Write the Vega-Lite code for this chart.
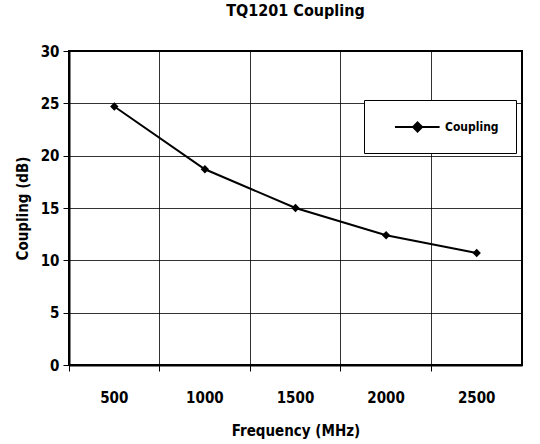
{
  "$schema": "https://vega.github.io/schema/vega-lite/v6.json",
  "autosize": "none",
  "width": 453,
  "height": 314,
  "padding": {"left": 69, "top": 51, "right": 18, "bottom": 79},
  "background": "white",
  "title": {
    "text": "TQ1201 Coupling",
    "fontSize": 16,
    "fontWeight": "bold",
    "font": "DejaVu Sans Condensed, sans-serif",
    "color": "black",
    "anchor": "middle",
    "offset": 25
  },
  "config": {
    "view": {"stroke": "black", "strokeWidth": 2},
    "font": "DejaVu Sans Condensed, sans-serif",
    "axis": {
      "labelFont": "DejaVu Sans Condensed, sans-serif",
      "titleFont": "DejaVu Sans Condensed, sans-serif",
      "labelFontWeight": "bold",
      "titleFontWeight": "bold",
      "labelColor": "black",
      "titleColor": "black",
      "labelFontSize": 15,
      "titleFontSize": 15,
      "gridColor": "black",
      "gridOpacity": 0.8,
      "gridWidth": 1,
      "domainColor": "black",
      "domainWidth": 2,
      "tickColor": "black",
      "tickWidth": 1,
      "tickSize": 6
    }
  },
  "data": {
    "values": [
      {"freq": 500, "coupling": 24.7, "series": "Coupling"},
      {"freq": 1000, "coupling": 18.7, "series": "Coupling"},
      {"freq": 1500, "coupling": 15.0, "series": "Coupling"},
      {"freq": 2000, "coupling": 12.4, "series": "Coupling"},
      {"freq": 2500, "coupling": 10.7, "series": "Coupling"}
    ]
  },
  "encoding": {
    "x": {
      "field": "freq",
      "type": "ordinal",
      "scale": {"type": "band", "paddingInner": 0, "paddingOuter": 0},
      "axis": {
        "title": "Frequency (MHz)",
        "labelAngle": 0,
        "bandPosition": 0,
        "labelPadding": 19,
        "titlePadding": 18,
        "grid": true
      }
    },
    "y": {
      "field": "coupling",
      "type": "quantitative",
      "scale": {"domain": [0, 30], "nice": false},
      "axis": {
        "title": "Coupling (dB)",
        "values": [0, 5, 10, 15, 20, 25, 30],
        "labelPadding": 4,
        "titlePadding": 10,
        "grid": true
      }
    },
    "color": {
      "field": "series",
      "type": "nominal",
      "scale": {"range": ["black"]},
      "legend": {
        "title": null,
        "orient": "none",
        "legendX": 295,
        "legendY": 49,
        "direction": "vertical",
        "fillColor": "white",
        "strokeColor": "black",
        "padding": 17,
        "symbolType": "M0.44,0H5.4M2.95,-0.5L3.45,0L2.95,0.5L2.45,0Z",
        "symbolSize": 324,
        "symbolStrokeWidth": 2,
        "symbolFillColor": "black",
        "symbolStrokeColor": "black",
        "labelFont": "DejaVu Sans Condensed, sans-serif",
        "labelFontWeight": "bold",
        "labelFontSize": 12,
        "labelColor": "black",
        "labelOffset": 44
      }
    }
  },
  "layer": [
    {"mark": {"type": "line", "strokeWidth": 2, "color": "black"}},
    {"mark": {"type": "point", "shape": "diamond", "filled": true, "size": 70, "opacity": 1, "color": "black"}}
  ]
}
